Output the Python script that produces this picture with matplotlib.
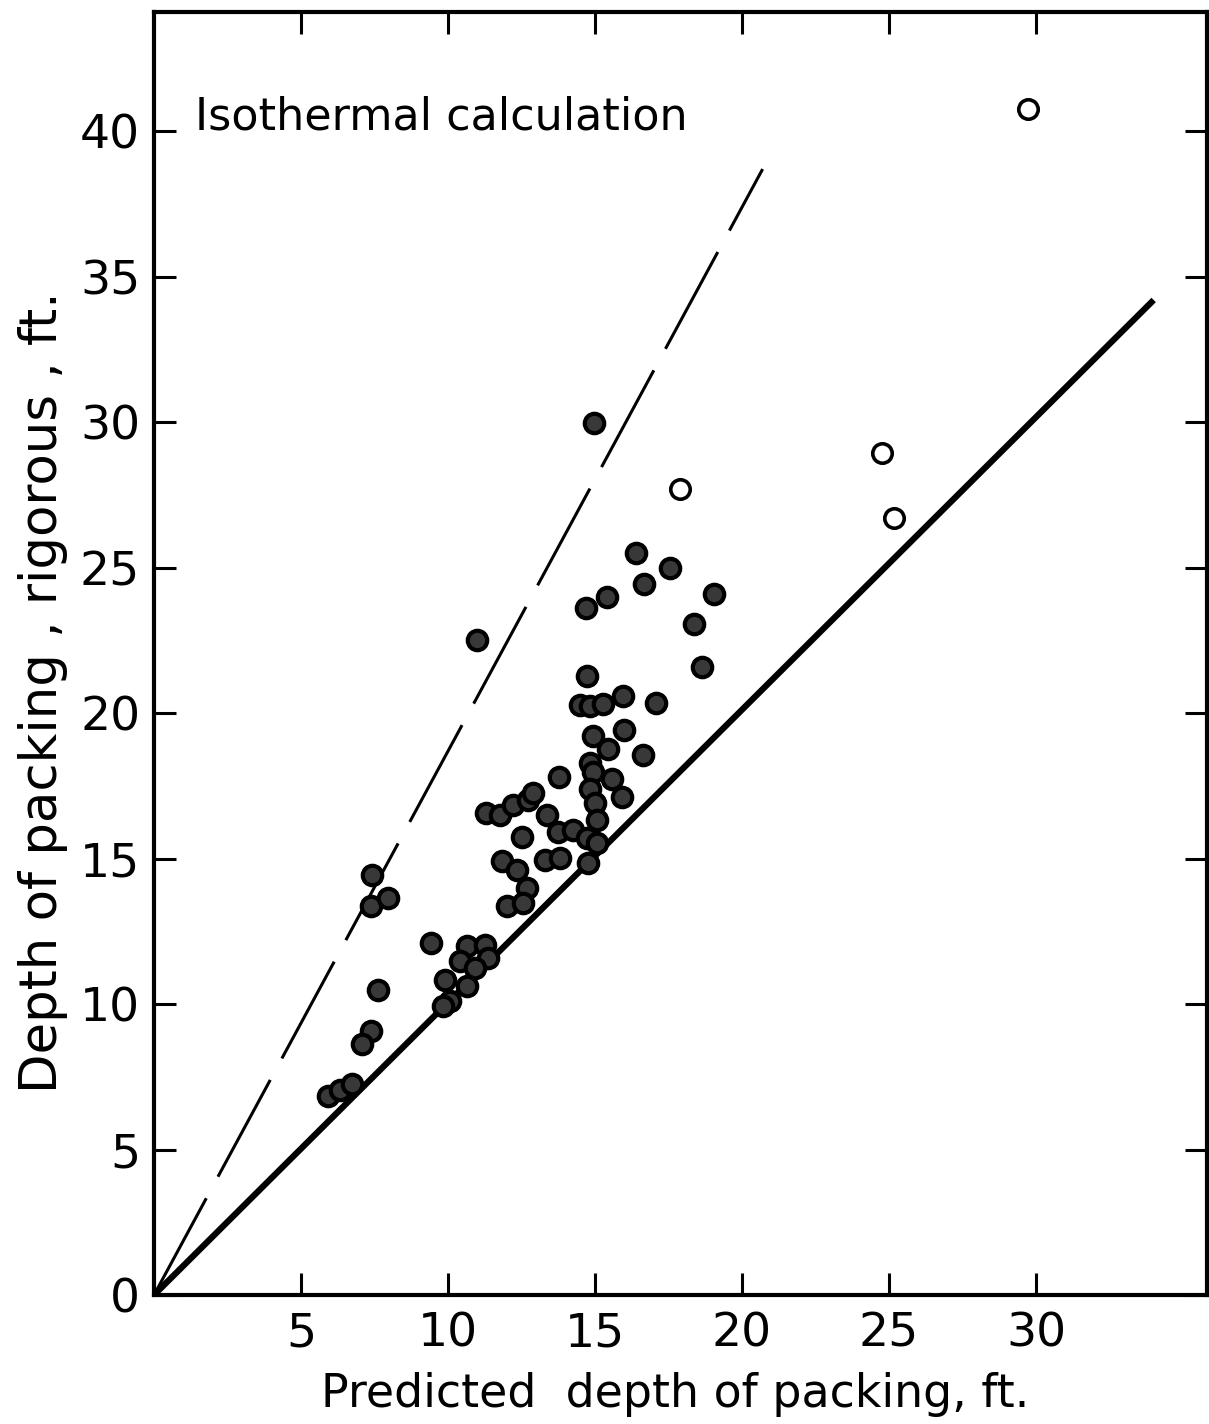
"""
plot.py - Isothermal calculation: rigorous vs predicted depth of packing.
"""

import matplotlib

matplotlib.use("Agg")
import matplotlib.pyplot as plt

# ---------------------------------------------------------------------------
# Data
# ---------------------------------------------------------------------------

# dark (speckled) circles
dark_x = [
    14.98, 10.99, 16.38, 17.55, 16.68, 15.40, 14.70, 19.05, 18.38, 18.64,
    14.72, 14.49, 14.83, 15.27, 15.96, 16.00, 14.94, 15.45, 16.62, 14.83,
    13.79, 14.93, 14.83, 15.00, 15.06, 15.57, 15.90, 11.29, 11.77, 12.22,
    12.73, 12.90, 12.50, 13.36, 13.75, 14.26, 14.72, 15.06, 13.30, 13.81,
    14.77, 11.83, 12.34, 12.68, 12.00, 12.56, 7.43, 7.38, 7.97, 9.42,
    7.61, 7.37, 7.06, 5.93, 6.33, 6.72, 10.63, 11.26, 11.37, 10.40,
    10.92, 9.90, 10.63, 10.07, 9.84, 17.07,
]
dark_y = [
    29.97, 22.53, 25.50, 25.00, 24.45, 24.00, 23.60, 24.10, 23.06, 21.60,
    21.27, 20.28, 20.24, 20.32, 20.58, 19.43, 19.23, 18.75, 18.55, 18.30,
    17.80, 17.98, 17.40, 16.90, 16.34, 17.75, 17.10, 16.55, 16.50, 16.84,
    17.00, 17.24, 15.75, 16.50, 15.92, 15.98, 15.70, 15.53, 14.95, 15.01,
    14.84, 14.93, 14.61, 13.98, 13.36, 13.47, 14.44, 13.36, 13.66, 12.10,
    10.47, 9.08, 8.62, 6.85, 7.04, 7.25, 11.99, 12.04, 11.59, 11.47,
    11.25, 10.84, 10.62, 10.10, 9.93, 20.35,
]

# open circles
open_x = [29.73, 24.76, 25.17, 17.89]
open_y = [40.75, 28.94, 26.70, 27.70]

# reference lines
solid_x = [0, 34.0]
solid_y = [0, 34.2]
dashed_x = [0, 20.7]
dashed_y = [0, 38.7]

x_ticks = [5, 10, 15, 20, 25, 30]
y_ticks = [0, 5, 10, 15, 20, 25, 30, 35, 40]

# ---------------------------------------------------------------------------
# Figure
# ---------------------------------------------------------------------------

plt.rcParams.update({"font.family": "DejaVu Sans"})

fig = plt.figure(figsize=(12.09, 14.24), dpi=100)
ax = fig.add_axes([0.1274, 0.0906, 0.8706, 0.901])

ax.plot(solid_x, solid_y, color="black", linewidth=4.5, solid_capstyle="butt")
ax.plot(
    dashed_x, dashed_y, color="black", linewidth=2.2, dashes=(36, 8),
    dash_capstyle="butt",
)

ax.plot(
    dark_x, dark_y, linestyle="none", marker="o", markersize=14,
    markerfacecolor="0.22", markeredgecolor="black", markeredgewidth=3,
)
ax.plot(
    open_x, open_y, linestyle="none", marker="o", markersize=14,
    markerfacecolor="white", markeredgecolor="black", markeredgewidth=2.6,
)

ax.set_xlim(0, 35.8)
ax.set_ylim(0, 44.1)

ax.set_xticks(x_ticks)
ax.set_yticks(y_ticks)
ax.tick_params(
    direction="in", length=16, width=2.2, labelsize=34,
    top=True, right=True,
)
ax.tick_params(axis="x", pad=12)
ax.tick_params(axis="y", pad=10)

for side in ["left", "right", "top", "bottom"]:
    ax.spines[side].set_linewidth(3)

ax.text(1.4, 40.5, "Isothermal calculation", fontsize=32, va="center", ha="left")

ax.set_xlabel("Predicted  depth of packing, ft.", fontsize=33)
ax.xaxis.set_label_coords(0.495, -0.06)
ax.set_ylabel("Depth of packing , rigorous , ft.", fontsize=37)
ax.yaxis.set_label_coords(-0.082, 0.47)

plt.savefig("out.png", dpi=100)
plt.close()
